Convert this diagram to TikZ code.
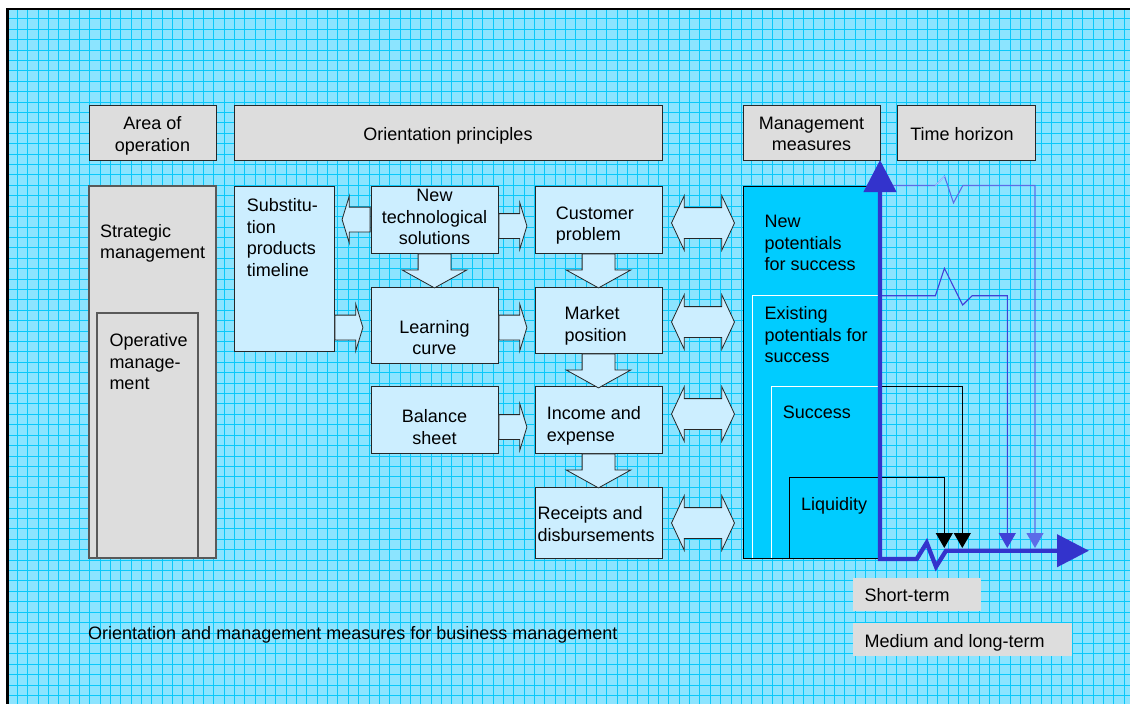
\documentclass[tikz,border=0pt]{standalone}
\usepackage{fontspec}
\setmainfont{Liberation Sans}
\usetikzlibrary{positioning}
\usetikzlibrary{arrows.meta}
\usetikzlibrary{shapes.arrows}

\definecolor{sheet}{RGB}{140,228,255}
\definecolor{gridcol}{RGB}{10,200,250}
\definecolor{greybox}{RGB}{221,221,221}
\definecolor{paleblue}{RGB}{204,238,255}
\definecolor{cyanbox}{RGB}{0,204,255}
\definecolor{axisblue}{RGB}{51,51,204}
\definecolor{linkblue}{RGB}{64,64,215}
\definecolor{lightlink}{RGB}{92,108,232}
\definecolor{paleline}{RGB}{165,200,255}

\begin{document}
\begin{tikzpicture}[x=1pt,y=-1pt,
  every node/.style={font=\fontsize{18pt}{21.5pt}\selectfont,inner sep=0pt},
  hdr/.style={draw=black!85,fill=greybox,line width=1pt,minimum height=55pt},
  stage/.style={draw=black!65,fill=greybox,line width=1.2pt},
  item/.style={draw=black!85,fill=paleblue,line width=1pt,minimum width=127pt},
  lbl/.style={anchor=north west,align=left},
  clbl/.style={anchor=north,align=center},
  horizon/.style={fill=greybox,minimum height=33pt},
  rarr/.style={single arrow,draw=black!85,fill=paleblue,line width=.8pt,
    minimum height=28pt,inner xsep=0pt,inner ysep=12pt,
    single arrow head extend=11pt,single arrow tip angle=146,anchor=tail},
  darr/.style={single arrow,draw=black!85,fill=paleblue,line width=.8pt,rotate=-90,
    minimum height=34pt,inner xsep=0pt,inner ysep=16pt,
    single arrow head extend=16pt,single arrow tip angle=122,anchor=tail},
  dblarr/.style={double arrow,draw=black!85,fill=paleblue,line width=.8pt,
    minimum height=63pt,inner xsep=0pt,inner ysep=15pt,
    double arrow head extend=12pt,double arrow tip angle=130},
  conn/.style={line width=1.1pt,-{Triangle[width=17pt,length=15pt]}},
  taxis/.style={draw=axisblue,line width=4.3pt,
    {Triangle[width=32pt,length=32pt]}-{Triangle[width=32pt,length=32pt]}}
]
  \useasboundingbox (0,0) rectangle (1130,704);
  \clip (0,0) rectangle (1130,704);

  % sheet with its grid
  \fill[sheet] (7.5,8.7) rectangle (1135,710);
  \foreach \i in {1,...,108}
    \draw[gridcol,line width=1pt] (7+\i*10.343,8.7) -- (7+\i*10.343,710);
  \foreach \j in {1,...,66}
    \draw[gridcol,line width=1pt] (7.5,8.4+\j*10.41) -- (1135,8.4+\j*10.41);
  \draw[line width=2.4pt] (1135,8.7) -- (7.5,8.7) -- (7.5,710);

  % column heads
  \node[hdr,minimum width=127pt] (area) at (152.5,132.5) {};
  \node[hdr,minimum width=428pt] (orient) at (448,132.5) {};
  \node[hdr,minimum width=137pt] (meas) at (811.5,132.5) {};
  \node[hdr,minimum width=138pt] (time) at (966,132.5) {};
  \node[clbl] (areat) at (152.5,116.7) {Area of\\operation};
  \node[clbl] (orientt) at (448,127) {Orientation principles};
  \node[clbl] (meast) at (811.5,116.7) {Management\\measures};
  \node[clbl] (timet) at (962,127) {Time horizon};

  % area of operation
  \node[stage,minimum width=127pt,minimum height=372pt] (strat) at (152.5,372) {};
  \node[stage,minimum width=101pt,minimum height=245pt] (oper) at (147.5,435.5) {};
  \node[lbl] (stratt) at (100,224) {Strategic\\management};
  \node[lbl] (opert) at (109.3,333.3) {Operative\\manage-\\ment};

  % orientation principles
  \node[item,minimum width=100pt,minimum height=165pt] (subst) at (284,268.5) {};
  \node[item,minimum height=67pt] (tech) at (434.5,219.5) {};
  \node[item,minimum height=76pt] (learn) at (434.5,325) {};
  \node[item,minimum height=67pt] (bal) at (434.5,419.5) {};
  \node[item,minimum height=67pt] (cust) at (598.5,219.5) {};
  \node[item,minimum height=66pt] (mkt) at (598.5,320) {};
  \node[item,minimum height=67pt] (inc) at (598.5,419.5) {};
  \node[item,minimum height=71pt] (rec) at (598.5,522.5) {};
  \node[lbl] (substt) at (246.7,198.3) {Substitu-\\tion\\products\\timeline};
  \node[clbl] (techt) at (434.5,189.3) {New\\technological\\solutions};
  \node[clbl] (learnt) at (434.5,320) {Learning\\curve};
  \node[clbl] (balt) at (434.5,409.5) {Balance\\sheet};
  \node[lbl] (custt) at (555.7,206.7) {Customer\\problem};
  \node[lbl] (mktt) at (564.3,306.7) {Market\\position};
  \node[lbl] (inct) at (546.7,406.7) {Income and\\expense};
  \node[lbl] (rect) at (537.3,506.7) {Receipts and\\disbursements};

  \node[rarr,rotate=180] (a1) at (tech.west) {};
  \node[rarr] (a2) at ([yshift=-6.5pt]tech.east) {};
  \node[rarr] (a3) at ([yshift=-2.5pt]learn.west -| subst.east) {};
  \node[rarr] (a4) at ([yshift=-2.5pt]learn.east) {};
  \node[rarr] (a5) at ([yshift=-7.5pt]bal.east) {};
  \node[darr] (a6) at (tech.south) {};
  \node[darr] (a7) at (cust.south) {};
  \node[darr] (a8) at (mkt.south) {};
  \node[darr] (a9) at (inc.south) {};

  \node[dblarr] (b1) at ([xshift=40.5pt,yshift=-3.5pt]cust.east) {};
  \node[dblarr] (b2) at ([xshift=40.5pt,yshift=-2pt]mkt.east) {};
  \node[dblarr] (b3) at ([xshift=40.5pt,yshift=5.5pt]inc.east) {};
  \node[dblarr] (b4) at ([xshift=40.5pt,yshift=-.5pt]rec.east) {};

  % management measures, nested
  \node[draw,line width=1pt,fill=cyanbox,minimum width=137pt,minimum height=372pt] (pot) at (811.5,372) {};
  \node[anchor=north west,minimum width=127.5pt,minimum height=262.3pt] (exist) at (752.5,295.7) {};
  \node[anchor=north west,minimum width=109pt,minimum height=171.3pt] (succ) at (771,386.7) {};
  \node[anchor=north west,minimum width=90.7pt,minimum height=80.3pt] (liq) at (789.3,477.7) {};
  \draw[white,line width=1pt] (exist.south west) |- (exist.north east);
  \draw[white,line width=1pt] (succ.south west) |- (succ.north east);
  \draw[line width=1pt] (liq.south west) |- (liq.north east);
  \draw[line width=1pt] (pot.south west) -- (pot.south east);
  \node[lbl] (pott) at (764.3,215) {New\\potentials\\for success};
  \node[lbl] (existt) at (764.3,306.7) {Existing\\potentials for\\success};
  \node[lbl] (succt) at (782.7,406) {Success};
  \node[lbl] (liqt) at (801,497.3) {Liquidity};

  % links onto the time axis
  \coordinate (t1) at (944.3,548);
  \coordinate (t2) at (962.3,548);
  \coordinate (t3) at (1007.3,548);
  \coordinate (t4) at (1035,548);
  \draw[conn] (liq.north east) -| (t1);
  \draw[conn] (succ.north east) -| (t2);
  \draw[conn,linkblue] (exist.north east) -- ++(55,0) -- ++(9,-27.4) -- ++(18.3,36.7) -- ++(9.4,-9.3) -| (t3);
  \draw[conn,lightlink] (pot.north east) -- ++(55,0) -- ++(9,-9.4) -- ++(9,26.7) -- ++(9.3,-17.3) -| (t4);
  \draw[paleline,line width=1.1pt] ([xshift=55pt]pot.north east) -- ++(9,-9.4);

  % time axis
  \coordinate (o) at (880,559);
  \draw[taxis] (880,160) -- (o) -- ++(36.7,0) -- ++(10,-16.3) -- ++(9.3,24) -- ++(10,-16) -- (1089,550.7);

  \node[horizon,minimum width=128pt] (short) at (917,594.5) {};
  \node[horizon,minimum width=219pt] (long) at (962.5,639.5) {};
  \node[lbl] (shortt) at (864.3,588.3) {Short-term};
  \node[lbl] (longt) at (864.3,634) {Medium and long-term};

  \node[lbl] (capt) at (88,626) {Orientation and management measures for business management};
\end{tikzpicture}
\end{document}
